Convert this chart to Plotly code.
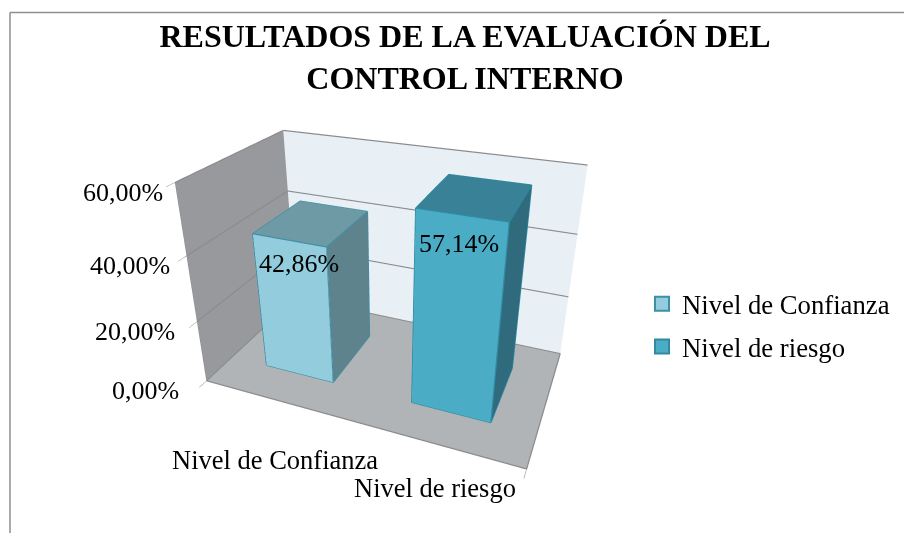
import plotly.graph_objects as go

# ---- data ----
categories = ["Nivel de Confianza", "Nivel de riesgo"]
values = [0.4286, 0.5714]
value_labels = ["42,86%", "57,14%"]
z_ticks = [0, 0.2, 0.4, 0.6]
z_tick_labels = ["0,00%", "20,00%", "40,00%", "60,00%"]

FONT = "Liberation Serif"
W, H = 904, 533
BAR_STYLE = [
    dict(front="#93CDDD", top="#6E9AA6", side="#5E838D", edge="#3E8FA5"),
    dict(front="#4BACC6", top="#388196", side="#2F6B7C", edge="#2F8AA3"),
]
BAR_W, BAR_D = 0.48, 0.5
GRID = "#8C8C8C"


def box(i, v, st):
    x0, x1 = i + 0.5 - BAR_W / 2, i + 0.5 + BAR_W / 2
    y0, y1 = 0.5 - BAR_D / 2, 0.5 + BAR_D / 2
    xs = [x0, x1, x1, x0, x0, x1, x1, x0]
    ys = [y0, y0, y1, y1, y0, y0, y1, y1]
    zs = [0, 0, 0, 0, v, v, v, v]
    tri = [
        (0, 1, 5, "front"), (0, 5, 4, "front"),
        (1, 2, 6, "side"), (1, 6, 5, "side"),
        (4, 5, 6, "top"), (4, 6, 7, "top"),
    ]
    mesh = go.Mesh3d(
        x=xs, y=ys, z=zs,
        i=[t[0] for t in tri], j=[t[1] for t in tri], k=[t[2] for t in tri],
        facecolor=[st[t[3]] for t in tri], flatshading=True,
        lighting=dict(ambient=1, diffuse=0, specular=0, fresnel=0, roughness=1),
        hoverinfo="skip", showlegend=False, showscale=False,
    )
    order = [0, 1, 5, 4, 0, None, 1, 2, 6, 5, None, 4, 7, 6]
    edges = go.Scatter3d(
        x=[xs[o] if o is not None else None for o in order],
        y=[ys[o] if o is not None else None for o in order],
        z=[zs[o] if o is not None else None for o in order],
        mode="lines", line=dict(color=st["edge"], width=2.5),
        hoverinfo="skip", showlegend=False,
    )
    return [mesh, edges]


fig = go.Figure()
# wall gridlines at each tick, plus the outer floor edge
gx, gy, gz = [], [], []
for t in z_ticks:
    gx += [0, 0, 2, None]
    gy += [0, 1, 1, None]
    gz += [t, t, t, None]
gx += [0, 2, 2]
gy += [0, 0, 1]
gz += [0, 0, 0]
fig.add_trace(go.Scatter3d(x=gx, y=gy, z=gz, mode="lines", line=dict(color=GRID, width=2.5),
                           hoverinfo="skip", showlegend=False))
for n, (val, st) in enumerate(zip(values, BAR_STYLE)):
    for t in box(n, val, st):
        fig.add_trace(t)
for name, st in zip(categories, BAR_STYLE):
    fig.add_trace(go.Scatter3d(
        x=[None], y=[None], z=[None], mode="markers", name=name, legendgroup=name,
        marker=dict(symbol="square", size=14, color=st["front"],
                    line=dict(color=st["edge"], width=2)),
        hoverinfo="skip",
    ))

txt = dict(family=FONT, size=26, color="black")
ann = [
    dict(x=n + 0.5, y=0.5 - BAR_D / 2, z=val, text=lab, showarrow=False,
         xanchor="center", yanchor="middle", xshift=10 - 12 * n, yshift=-23 - 6 * n, font=txt)
    for n, (val, lab) in enumerate(zip(values, value_labels))
]
ann += [
    dict(x=n + 0.5, y=0, z=0, text=c, showarrow=False, xshift=-1 + n, yshift=-60 + 16 * n,
         font=dict(family=FONT, size=26.5, color="black"))
    for n, c in enumerate(categories)
]
ann += [
    dict(x=0, y=0, z=t, text=lab, showarrow=False, xanchor="right",
         xshift=-26 + 27 * t / 0.6 * 0.6, yshift=-10, font=txt)
    for t, lab in zip(z_ticks, z_tick_labels)
]

axis_common = dict(showspikes=False, title=dict(text=""), zeroline=False, autorange=False)
fig.update_layout(
    width=W, height=H,
    margin=dict(l=0, r=0, t=0, b=0),
    paper_bgcolor="white",
    title=dict(text="RESULTADOS DE LA EVALUACIÓN DEL<br>CONTROL INTERNO",
               x=465 / W, xanchor="center", y=1 - 47 / H, yanchor="top",
               font=dict(family=FONT, size=32, color="black", weight="bold")),
    legend=dict(x=642 / W, y=1 - 280 / H, xanchor="left", yanchor="top",
                font=dict(family=FONT, size=26.7, color="black"),
                tracegroupgap=5, bgcolor="rgba(0,0,0,0)"),
    scene=dict(
        domain=dict(x=[0, 778 / W], y=[0, 1]),
        aspectmode="manual", aspectratio=dict(x=1.49, y=0.84, z=0.97),
        camera=dict(eye=dict(x=0.95, y=-2.35, z=1.345), center=dict(x=0, y=0, z=0.055),
                    up=dict(x=0, y=0, z=1), projection=dict(type="perspective")),
        xaxis=dict(range=[0, 2], tickvals=[0, 2], ticktext=[" ", " "], showgrid=False,
                   showbackground=True, backgroundcolor="#98999C",
                   showline=False, ticks="outside", ticklen=8,
                   tickcolor=GRID, **axis_common),
        yaxis=dict(range=[0, 1], tickvals=[], showgrid=False,
                   showbackground=True, backgroundcolor="#E8EFF5",
                   showline=False, **axis_common),
        zaxis=dict(range=[0, 0.6], tickvals=z_ticks, ticktext=[" "] * 4, showgrid=False,
                   showbackground=True, backgroundcolor="#B0B4B7",
                   showline=True, linecolor=GRID, ticks="outside", ticklen=8,
                   tickcolor=GRID, **axis_common),
        annotations=ann,
    ),
    shapes=[
        dict(type="line", xref="paper", yref="paper", x0=10 / W, x1=1, y0=1 - 12.5 / H, y1=1 - 12.5 / H,
             line=dict(color="#8E8E8E", width=1.5)),
        dict(type="line", xref="paper", yref="paper", x0=10 / W, x1=10 / W, y0=0, y1=1 - 12.5 / H,
             line=dict(color="#8E8E8E", width=1.5)),
    ],
)
fig.write_html("out.html", config=dict(displayModeBar=False),
               post_script="document.body.style.margin='0';")
